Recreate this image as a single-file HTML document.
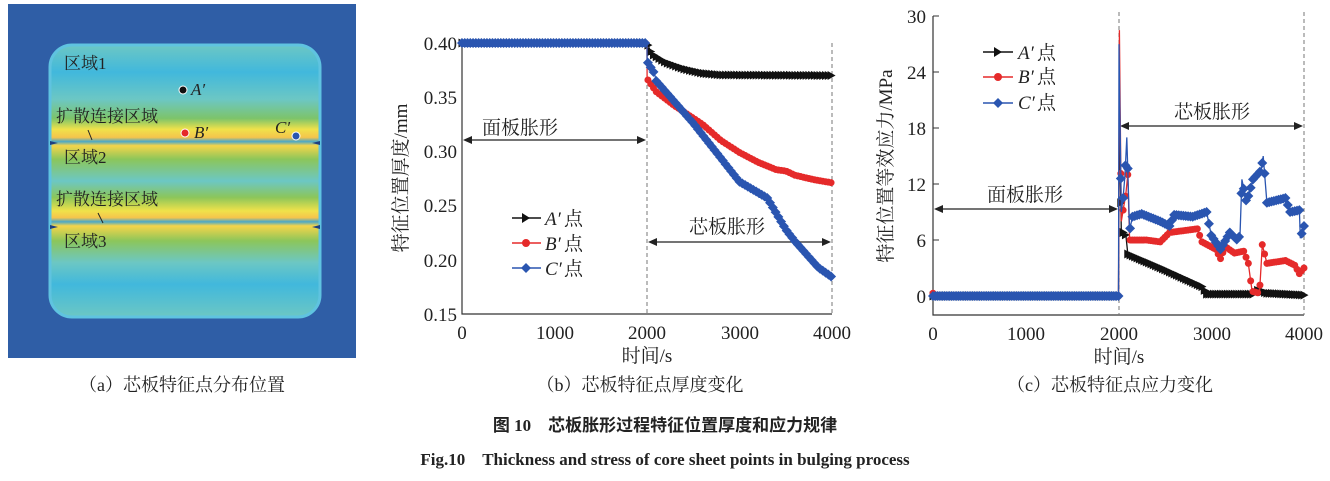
<!DOCTYPE html>
<html><head><meta charset="utf-8"><style>
body{margin:0;background:#fff;width:1330px;height:476px;overflow:hidden}
svg text{font-family:"Liberation Serif","Noto Serif CJK SC",serif;fill:#222}
</style></head><body>
<svg id="s" width="1330" height="476" viewBox="0 0 1330 476" xmlns="http://www.w3.org/2000/svg">
<defs>
<linearGradient id="band" x1="0" y1="0" x2="0" y2="1">
<stop offset="0" stop-color="#6cc7c4"/>
<stop offset="0.1" stop-color="#41b8dc"/>
<stop offset="0.2" stop-color="#6cc7c4"/>
<stop offset="0.27" stop-color="#7dc46a"/>
<stop offset="0.31" stop-color="#f0e24a"/>
<stop offset="0.34" stop-color="#f5c44c"/>
<stop offset="0.355" stop-color="#4aa8c8"/>
<stop offset="0.37" stop-color="#f5d54a"/>
<stop offset="0.42" stop-color="#8cc65a"/>
<stop offset="0.5" stop-color="#6cc7c4"/>
<stop offset="0.56" stop-color="#8cc65a"/>
<stop offset="0.61" stop-color="#f0e24a"/>
<stop offset="0.635" stop-color="#f5c44c"/>
<stop offset="0.65" stop-color="#4aa8c8"/>
<stop offset="0.665" stop-color="#f5d54a"/>
<stop offset="0.72" stop-color="#8cc65a"/>
<stop offset="0.8" stop-color="#6cc7c4"/>
<stop offset="0.88" stop-color="#41b8dc"/>
<stop offset="1" stop-color="#6cc7c4"/>
</linearGradient>
</defs>
<rect x="8" y="4" width="348" height="354" fill="#2f5ea6"/>
<rect x="50" y="45" width="270" height="272" rx="22" fill="url(#band)" stroke="#5fc3e0" stroke-width="3"/>
<path d="M50 141l8 2-8 2zM320 141l-8 2 8 2zM50 225l8 2-8 2zM320 225l-8 2 8 2z" fill="#1e3f80"/>
<g font-size="17">
<text x="64" y="69">区域1</text>
<text x="56" y="122">扩散连接区域</text>
<text x="64" y="163">区域2</text>
<text x="56" y="205">扩散连接区域</text>
<text x="64" y="247">区域3</text>
</g>
<line x1="88" y1="130" x2="92" y2="140" stroke="#222"/>
<line x1="98" y1="213" x2="103" y2="223" stroke="#222"/>
<circle cx="183" cy="90" r="4" fill="#111" stroke="#fff"/>
<circle cx="185" cy="133" r="4" fill="#e52a2a" stroke="#fff"/>
<circle cx="296" cy="136" r="4" fill="#2a55b0" stroke="#fff"/>
<g font-size="17" font-style="italic"><text x="191" y="95">A′</text><text x="194" y="138">B′</text><text x="275" y="133">C′</text></g>
<path d="M462 43V314H832" stroke="#333" stroke-width="1.2" fill="none"/>
<g stroke="#777" stroke-dasharray="4,3"><line x1="647" y1="43" x2="647" y2="314"/><line x1="832" y1="43" x2="832" y2="314"/></g>
<g font-size="19" text-anchor="end">
<text x="457" y="50">0.40</text><text x="457" y="104">0.35</text><text x="457" y="158">0.30</text><text x="457" y="212">0.25</text><text x="457" y="267">0.20</text><text x="457" y="321">0.15</text>
</g>
<g font-size="19" text-anchor="middle">
<text x="462" y="339">0</text><text x="555" y="339">1000</text><text x="647" y="339">2000</text><text x="740" y="339">3000</text><text x="832" y="339">4000</text>
<text x="647" y="362">时间/s</text>
<text x="520" y="134">面板胀形</text>
<text x="727" y="233">芯板胀形</text>
</g>
<text font-size="19" text-anchor="middle" transform="translate(407,178) rotate(-90)">特征位置厚度/mm</text>
<g stroke="#222" stroke-width="1.2"><line x1="466" y1="140" x2="643" y2="140"/><line x1="651" y1="242" x2="828" y2="242"/></g>
<g fill="#222"><path d="M463 140l9-4v8z"/><path d="M646 140l-9-4v8z"/><path d="M648 242l9-4v8z"/><path d="M831 242l-9-4v8z"/></g>
<path d="M933 16V315H1304" stroke="#333" stroke-width="1.2" fill="none"/>
<g stroke="#333"><line x1="933" y1="16" x2="939" y2="16"/><line x1="933" y1="72" x2="939" y2="72"/><line x1="933" y1="128" x2="939" y2="128"/><line x1="933" y1="184" x2="939" y2="184"/><line x1="933" y1="240" x2="939" y2="240"/><line x1="933" y1="296" x2="939" y2="296"/></g>
<g stroke="#777" stroke-dasharray="4,3"><line x1="1119" y1="12" x2="1119" y2="315"/><line x1="1304" y1="12" x2="1304" y2="315"/></g>
<g font-size="19" text-anchor="end">
<text x="926" y="23">30</text><text x="926" y="79">24</text><text x="926" y="135">18</text><text x="926" y="191">12</text><text x="926" y="247">6</text><text x="926" y="303">0</text>
</g>
<g font-size="19" text-anchor="middle">
<text x="933" y="340">0</text><text x="1026" y="340">1000</text><text x="1119" y="340">2000</text><text x="1212" y="340">3000</text><text x="1304" y="340">4000</text>
<text x="1119" y="363">时间/s</text>
<text x="1025" y="201">面板胀形</text>
<text x="1212" y="118">芯板胀形</text>
</g>
<text font-size="19" text-anchor="middle" transform="translate(892,166) rotate(-90)">特征位置等效应力/MPa</text>
<g stroke="#222" stroke-width="1.2"><line x1="937" y1="209" x2="1115" y2="209"/><line x1="1123" y1="126" x2="1300" y2="126"/></g>
<g fill="#222"><path d="M934 209l9-4v8z"/><path d="M1118 209l-9-4v8z"/><path d="M1120 126l9-4v8z"/><path d="M1303 126l-9-4v8z"/></g>
<g id="series"></g>
<g font-size="19">
<g font-style="italic"><text x="545" y="225">A′</text><text x="545" y="250">B′</text><text x="545" y="275">C′</text>
<text x="1018" y="59">A′</text><text x="1018" y="83">B′</text><text x="1018" y="109">C′</text></g>
<text x="564" y="225">点</text><text x="564" y="250">点</text><text x="564" y="275">点</text>
<text x="1037" y="59">点</text><text x="1037" y="83">点</text><text x="1037" y="109">点</text>
</g>
<g stroke-width="1.5">
<line x1="512" y1="218" x2="541" y2="218" stroke="#111"/><path d="M522 213l8 5-8 5z" fill="#111"/>
<line x1="512" y1="243" x2="541" y2="243" stroke="#e52a2a"/><circle cx="526" cy="243" r="4" fill="#e52a2a"/>
<line x1="512" y1="268" x2="541" y2="268" stroke="#2a55b0"/><path d="M526 263l5 5-5 5-5-5z" fill="#2a55b0"/>
<line x1="983" y1="52" x2="1013" y2="52" stroke="#111"/><path d="M994 47l8 5-8 5z" fill="#111"/>
<line x1="983" y1="77" x2="1013" y2="77" stroke="#e52a2a"/><circle cx="998" cy="77" r="4" fill="#e52a2a"/>
<line x1="983" y1="103" x2="1013" y2="103" stroke="#2a55b0"/><path d="M998 98l5 5-5 5-5-5z" fill="#2a55b0"/>
</g>
<g font-size="18" text-anchor="middle">
<text x="182" y="391">（a）芯板特征点分布位置</text>
<text x="640" y="391">（b）芯板特征点厚度变化</text>
<text x="1110" y="391">（c）芯板特征点应力变化</text>
</g>
<text x="665" y="431" font-size="17" font-weight="bold" text-anchor="middle" style="font-family:'Liberation Serif','Noto Sans CJK SC',sans-serif">图 10　芯板胀形过程特征位置厚度和应力规律</text>
<text x="665" y="465" font-size="17" font-weight="bold" text-anchor="middle">Fig.10　Thickness and stress of core sheet points in bulging process</text>
</svg>
<script>
var NS="http://www.w3.org/2000/svg",G=document.getElementById("series");
function interp(p,t){for(var i=1;i<p.length;i++){if(t<=p[i][0]){var a=p[i-1],b=p[i];if(b[0]==a[0])return b[1];return a[1]+(b[1]-a[1])*(t-a[0])/(b[0]-a[0]);}}return p[p.length-1][1];}
function draw(p,fx,fy,col,mk,step){
 var d="";for(var i=0;i<p.length;i++){d+=(i?"L":"M")+fx(p[i][0]).toFixed(1)+" "+fy(p[i][1]).toFixed(1);}
 var pa=document.createElementNS(NS,"path");pa.setAttribute("d",d);pa.setAttribute("stroke",col);pa.setAttribute("fill","none");pa.setAttribute("stroke-width","1.3");G.appendChild(pa);
 var s="";for(var t=0;t<=4000;t+=step){var x=fx(t),y=fy(interp(p,t));
  if(mk=="c")s+="M"+(x-3.5)+" "+y+"a3.5 3.5 0 1 0 7 0a3.5 3.5 0 1 0 -7 0z";
  else if(mk=="d")s+="M"+x+" "+(y-5)+"l5 5-5 5-5-5z";
  else s+="M"+(x-3.5)+" "+(y-4.5)+"l8 4.5-8 4.5z";}
 var m=document.createElementNS(NS,"path");m.setAttribute("d",s);m.setAttribute("fill",col);G.appendChild(m);}
var bx=function(t){return 462+t/4000*370},by=function(v){return 43+(0.40-v)/0.05*54.2};
var cx=function(t){return 933+t/4000*371},cy=function(v){return 296-v*9.33};
var K="#111",R="#e52a2a",B="#2a55b0";
draw([[0,.4],[2000,.4],[2050,.39],[2200,.382],[2400,.376],[2600,.372],[2800,.3705],[4000,.37]],bx,by,K,"t",30);
draw([[0,.4],[2000,.4],[2001,.367],[2100,.355],[2300,.342],[2600,.325],[2800,.31],[3000,.299],[3200,.29],[3400,.283],[3500,.282],[3600,.278],[3800,.274],[4000,.271]],bx,by,R,"c",30);
draw([[0,.4],[2000,.4],[2001,.383],[2080,.372],[2100,.365],[2500,.326],[3000,.272],[3300,.257],[3500,.228],[3600,.217],[3850,.193],[4000,.184]],bx,by,B,"d",30);
draw([[0,0],[2000,0],[2010,19],[2030,7],[2080,6.5],[2100,4.5],[2500,2.8],[2900,1],[2950,.2],[3450,.2],[3500,.6],[3600,.3],[4000,.1]],cx,cy,K,"t",25);
draw([[0,.3],[30,0],[2000,0],[2010,28.5],[2030,8],[2080,11],[2100,13],[2120,6],[2300,6],[2450,5.8],[2550,6.8],[2850,7.2],[2900,5.8],[3050,5],[3100,4],[3150,5.3],[3250,4.6],[3350,4.8],[3400,3.5],[3440,0.5],[3520,0.3],[3550,5.5],[3600,3.5],[3800,3.8],[3900,3.3],[3950,2.4],[4000,3]],cx,cy,R,"c",25);
draw([[0,0],[2000,0],[2005,27],[2030,9],[2050,10.5],[2070,13],[2090,17],[2120,7],[2150,8.5],[2250,8.8],[2450,8],[2550,7.5],[2600,8.7],[2800,8.5],[2950,9],[3000,6.5],[3100,5],[3200,6.8],[3280,6],[3310,6.5],[3330,12.5],[3380,10],[3450,12.5],[3540,13.5],[3560,15],[3600,10],[3800,10.5],[3850,9],[3950,9.2],[3960,6.2],[4000,7.5]],cx,cy,B,"d",25);
</script>
</body></html>
